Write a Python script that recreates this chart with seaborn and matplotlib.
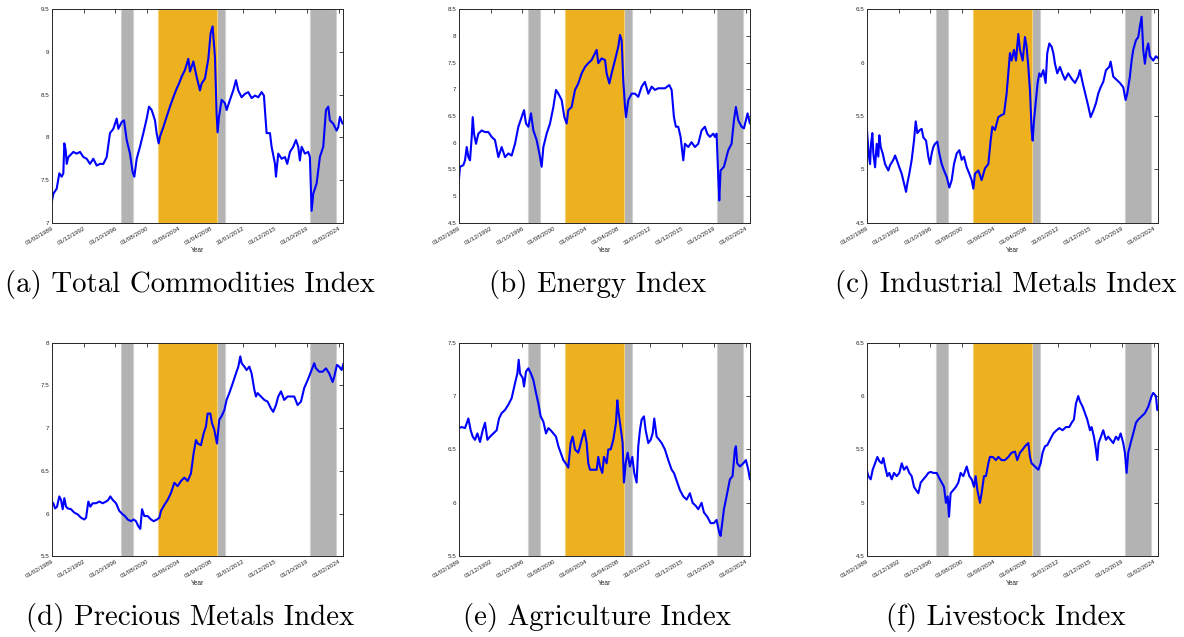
import numpy as np
import pandas as pd
import seaborn as sns
import matplotlib
matplotlib.use("Agg")
import matplotlib.pyplot as plt
from matplotlib.ticker import FormatStrFormatter

sns.set_theme(style="white")
plt.rcParams["font.family"] = ["Liberation Sans", "DejaVu Sans"]

# ---------------------------------------------------------
# data (log index levels; x in decimal years)
# ---------------------------------------------------------
tick_labels = ["01/02/1989", "01/12/1992", "01/10/1996", "01/08/2000", "01/06/2004",
               "01/04/2008", "31/01/2012", "01/12/2015", "01/10/2019", "01/02/2024"]
tick_years = [1989.08, 1992.97, 1996.86, 2000.75, 2004.64,
              2008.53, 2012.42, 2016.31, 2020.20, 2024.09]

gray_bands = [(1997.55, 1999.05), (2009.24, 2010.22), (2020.62, 2023.76)]
orange_band = (2002.10, 2009.24)

tci_years = [1989.08, 1989.28, 1989.69, 1990.01, 1990.30, 1990.50, 1990.62, 1990.79, 1990.91, 1991.11,
             1991.32, 1991.72, 1992.13, 1992.54, 1992.94, 1993.35, 1993.75, 1994.16, 1994.57, 1994.97,
             1995.38, 1995.79, 1996.19, 1996.60, 1997.01, 1997.21, 1997.62, 1997.90, 1998.23, 1998.63,
             1998.96, 1999.16, 1999.45, 1999.85, 2000.26, 2000.67, 2000.95, 2001.28, 2001.68, 2001.88,
             2002.13, 2002.29, 2002.70, 2003.10, 2003.51, 2003.92, 2004.32, 2004.61, 2004.93, 2005.34,
             2005.75, 2005.95, 2006.36, 2006.76, 2007.17, 2007.37, 2007.78, 2008.19, 2008.47, 2008.71,
             2009.00, 2009.20, 2009.32, 2009.49, 2009.81, 2010.22, 2010.42, 2010.83, 2011.23, 2011.56,
             2011.84, 2012.25, 2012.66, 2013.06, 2013.47, 2013.88, 2014.28, 2014.69, 2014.97, 2015.30,
             2015.71, 2015.91, 2016.32, 2016.44, 2016.72, 2017.13, 2017.54, 2017.82, 2018.15, 2018.55,
             2018.88, 2019.16, 2019.36, 2019.57, 2019.97, 2020.38, 2020.58, 2020.79, 2020.99, 2021.40,
             2021.80, 2022.21, 2022.54, 2022.82, 2023.02, 2023.43, 2023.84, 2024.04, 2024.24, 2024.57]
tci_vals = [7.24, 7.34, 7.40, 7.58, 7.54, 7.58, 7.93, 7.85, 7.69, 7.77,
            7.79, 7.83, 7.81, 7.83, 7.77, 7.75, 7.69, 7.75, 7.67, 7.69,
            7.69, 7.77, 8.05, 8.10, 8.22, 8.10, 8.18, 8.20, 7.97, 7.81,
            7.59, 7.54, 7.75, 7.89, 8.05, 8.22, 8.36, 8.32, 8.20, 8.05,
            7.93, 8.01, 8.12, 8.24, 8.36, 8.47, 8.57, 8.63, 8.71, 8.79,
            8.92, 8.77, 8.89, 8.71, 8.55, 8.63, 8.69, 8.92, 9.22, 9.30,
            8.94, 8.28, 8.06, 8.24, 8.44, 8.40, 8.32, 8.44, 8.55, 8.67,
            8.55, 8.47, 8.51, 8.53, 8.46, 8.49, 8.47, 8.53, 8.49, 8.05,
            8.05, 7.89, 7.69, 7.54, 7.81, 7.75, 7.77, 7.69, 7.83, 7.89,
            7.97, 7.89, 7.73, 7.89, 7.81, 7.83, 7.77, 7.14, 7.34, 7.46,
            7.77, 7.89, 8.32, 8.36, 8.20, 8.16, 8.08, 8.12, 8.24, 8.16]

nrg_years = [1989.08, 1989.24, 1989.65, 1989.85, 1990.06, 1990.26, 1990.46, 1990.67, 1990.79, 1990.95,
             1991.19, 1991.48, 1991.88, 1992.29, 1992.70, 1993.10, 1993.51, 1993.92, 1994.32, 1994.73,
             1995.14, 1995.54, 1995.95, 1996.36, 1996.76, 1997.05, 1997.29, 1997.58, 1997.90, 1998.19,
             1998.59, 1998.92, 1999.20, 1999.41, 1999.81, 2000.22, 2000.63, 2000.95, 2001.24, 2001.64,
             2001.97, 2002.25, 2002.45, 2002.86, 2003.27, 2003.67, 2004.08, 2004.49, 2004.89, 2005.30,
             2005.91, 2006.11, 2006.52, 2006.93, 2007.13, 2007.46, 2007.74, 2008.15, 2008.55, 2008.76,
             2008.96, 2009.16, 2009.37, 2009.49, 2009.77, 2010.18, 2010.58, 2010.99, 2011.40, 2011.80,
             2012.21, 2012.62, 2013.02, 2013.43, 2013.84, 2014.24, 2014.77, 2015.06, 2015.34, 2015.58,
             2015.87, 2016.15, 2016.48, 2016.68, 2017.09, 2017.49, 2017.90, 2018.31, 2018.71, 2019.12,
             2019.40, 2019.73, 2020.14, 2020.34, 2020.54, 2020.75, 2020.87, 2021.03, 2021.44, 2021.97,
             2022.37, 2022.66, 2022.90, 2023.19, 2023.59, 2023.88, 2024.12, 2024.32, 2024.61]
nrg_vals = [5.26, 5.55, 5.58, 5.67, 5.92, 5.73, 5.67, 6.11, 6.48, 6.17,
            5.98, 6.17, 6.23, 6.20, 6.20, 6.11, 6.05, 5.73, 5.92, 5.73,
            5.80, 5.76, 5.98, 6.30, 6.48, 6.61, 6.36, 6.30, 6.55, 6.23,
            6.05, 5.80, 5.55, 5.92, 6.17, 6.36, 6.67, 6.99, 6.92, 6.80,
            6.48, 6.36, 6.61, 6.67, 6.99, 7.11, 7.30, 7.42, 7.49, 7.55,
            7.74, 7.49, 7.58, 7.55, 7.30, 7.11, 7.30, 7.55, 7.80, 8.02,
            7.92, 7.17, 6.67, 6.48, 6.80, 6.92, 6.92, 6.86, 7.05, 7.14,
            6.92, 7.05, 6.99, 7.02, 7.02, 7.02, 7.08, 6.99, 6.48, 6.30,
            6.30, 6.11, 5.67, 5.98, 5.92, 6.01, 5.92, 5.98, 6.23, 6.30,
            6.17, 6.11, 6.17, 6.11, 6.17, 5.36, 4.92, 5.48, 5.55, 5.86,
            5.98, 6.42, 6.67, 6.42, 6.30, 6.27, 6.42, 6.55, 6.36]

ind_years = [1989.08, 1989.20, 1989.36, 1989.49, 1989.61, 1989.77, 1989.89, 1990.10, 1990.30, 1990.50,
             1990.62, 1990.79, 1991.03, 1991.32, 1991.52, 1991.72, 1991.93, 1992.33, 1992.54, 1992.74,
             1993.06, 1993.35, 1993.63, 1993.88, 1994.04, 1994.28, 1994.57, 1994.85, 1995.06, 1995.26,
             1995.58, 1995.79, 1995.99, 1996.32, 1996.60, 1996.80, 1997.01, 1997.21, 1997.41, 1997.70,
             1997.94, 1998.23, 1998.51, 1998.84, 1999.16, 1999.45, 1999.73, 2000.06, 2000.38, 2000.67,
             2000.95, 2001.28, 2001.60, 2001.89, 2002.09, 2002.29, 2002.70, 2003.10, 2003.51, 2003.92,
             2004.20, 2004.41, 2004.73, 2005.14, 2005.54, 2005.83, 2006.15, 2006.36, 2006.56, 2006.76,
             2007.05, 2007.29, 2007.58, 2007.78, 2008.11, 2008.39, 2008.59, 2008.80, 2009.00, 2009.20,
             2009.33, 2009.49, 2009.73, 2009.93, 2010.14, 2010.34, 2010.63, 2010.91, 2011.11, 2011.36,
             2011.64, 2011.85, 2012.05, 2012.33, 2012.66, 2012.94, 2013.27, 2013.67, 2014.08, 2014.49,
             2014.89, 2015.10, 2015.43, 2015.83, 2016.12, 2016.40, 2016.73, 2017.05, 2017.33, 2017.62,
             2017.94, 2018.27, 2018.67, 2018.84, 2019.16, 2019.57, 2019.97, 2020.38, 2020.67, 2020.87,
             2021.19, 2021.40, 2021.60, 2021.93, 2022.21, 2022.41, 2022.62, 2022.82, 2023.02, 2023.23,
             2023.43, 2023.63, 2024.04, 2024.37, 2024.65]
ind_vals = [5.41, 5.27, 5.12, 5.05, 5.24, 5.34, 5.15, 5.02, 5.24, 5.12,
            5.32, 5.21, 5.15, 5.05, 5.02, 4.99, 5.04, 5.09, 5.13, 5.09,
            5.02, 4.96, 4.87, 4.79, 4.87, 4.96, 5.09, 5.27, 5.45, 5.34,
            5.37, 5.38, 5.30, 5.27, 5.12, 5.05, 5.15, 5.21, 5.24, 5.26,
            5.15, 5.05, 4.99, 4.93, 4.83, 4.90, 5.05, 5.15, 5.18, 5.09,
            5.12, 5.02, 4.96, 4.90, 4.82, 4.96, 4.99, 4.90, 5.01, 5.05,
            5.27, 5.40, 5.37, 5.49, 5.51, 5.52, 5.71, 5.90, 6.09, 6.02,
            6.12, 6.02, 6.27, 6.12, 6.02, 6.24, 6.15, 5.96, 5.74, 5.37,
            5.27, 5.46, 5.65, 5.81, 5.90, 5.87, 5.93, 5.81, 6.09, 6.18,
            6.15, 6.09, 5.99, 5.90, 5.96, 5.90, 5.84, 5.90, 5.85, 5.81,
            5.87, 5.93, 5.81, 5.68, 5.59, 5.49, 5.55, 5.62, 5.71, 5.77,
            5.82, 5.93, 5.96, 6.01, 5.87, 5.84, 5.81, 5.77, 5.65, 5.71,
            5.87, 6.02, 6.12, 6.21, 6.24, 6.34, 6.43, 6.12, 5.99, 6.12,
            6.18, 6.06, 6.02, 6.06, 6.04]

prc_years = [1989.08, 1989.28, 1989.49, 1989.73, 1990.01, 1990.22, 1990.42, 1990.62, 1990.83, 1991.03,
             1991.44, 1991.84, 1992.25, 1992.66, 1993.06, 1993.27, 1993.55, 1993.80, 1994.08, 1994.49,
             1994.89, 1995.30, 1995.71, 1995.99, 1996.23, 1996.52, 1996.93, 1997.33, 1997.74, 1998.02,
             1998.35, 1998.75, 1999.08, 1999.36, 1999.65, 1999.89, 2000.10, 2000.38, 2000.79, 2001.19,
             2001.52, 2001.93, 2002.21, 2002.41, 2002.82, 2003.23, 2003.63, 2004.04, 2004.45, 2004.85,
             2005.26, 2005.67, 2006.07, 2006.40, 2006.68, 2006.89, 2007.29, 2007.62, 2007.90, 2008.10,
             2008.43, 2008.63, 2008.92, 2009.24, 2009.53, 2009.81, 2010.14, 2010.42, 2010.75, 2011.15,
             2011.56, 2011.85, 2012.09, 2012.25, 2012.58, 2012.86, 2013.19, 2013.47, 2013.80, 2014.00,
             2014.20, 2014.61, 2015.02, 2015.42, 2015.83, 2016.11, 2016.44, 2016.72, 2017.05, 2017.45,
             2017.86, 2018.27, 2018.67, 2019.08, 2019.49, 2019.89, 2020.30, 2020.71, 2021.11, 2021.32,
             2021.72, 2022.13, 2022.54, 2022.94, 2023.35, 2023.55, 2023.88, 2024.16, 2024.45, 2024.69]
prc_vals = [6.14, 6.12, 6.06, 6.08, 6.20, 6.16, 6.05, 6.18, 6.08, 6.06,
            6.05, 6.01, 5.99, 5.95, 5.93, 5.95, 6.14, 6.08, 6.12, 6.12,
            6.14, 6.12, 6.14, 6.16, 6.20, 6.16, 6.12, 6.03, 5.99, 5.97,
            5.93, 5.91, 5.93, 5.91, 5.85, 5.82, 6.05, 5.97, 5.97, 5.93,
            5.91, 5.93, 5.95, 6.03, 6.10, 6.16, 6.24, 6.36, 6.32, 6.38,
            6.42, 6.38, 6.47, 6.71, 6.86, 6.82, 6.80, 6.94, 7.02, 7.17,
            7.17, 7.06, 6.98, 6.82, 7.10, 7.14, 7.21, 7.33, 7.41, 7.52,
            7.64, 7.72, 7.84, 7.76, 7.72, 7.68, 7.72, 7.64, 7.45, 7.37,
            7.41, 7.37, 7.33, 7.31, 7.23, 7.19, 7.27, 7.37, 7.43, 7.33,
            7.37, 7.37, 7.37, 7.27, 7.31, 7.47, 7.56, 7.66, 7.76, 7.70,
            7.66, 7.66, 7.70, 7.64, 7.54, 7.60, 7.74, 7.72, 7.68, 7.76]

agr_years = [1989.08, 1989.45, 1989.85, 1990.26, 1990.54, 1990.79, 1991.07, 1991.36, 1991.68, 1992.01,
             1992.29, 1992.58, 1992.90, 1993.31, 1993.71, 1994.00, 1994.32, 1994.73, 1995.14, 1995.54,
             1995.95, 1996.23, 1996.40, 1996.56, 1996.89, 1997.05, 1997.29, 1997.58, 1997.90, 1998.19,
             1998.51, 1998.80, 1999.08, 1999.41, 1999.73, 2000.02, 2000.30, 2000.63, 2000.95, 2001.24,
             2001.52, 2001.85, 2002.13, 2002.45, 2002.74, 2002.98, 2003.27, 2003.67, 2004.08, 2004.41,
             2004.69, 2004.89, 2005.10, 2005.42, 2005.91, 2006.11, 2006.32, 2006.60, 2006.80, 2007.13,
             2007.33, 2007.62, 2007.94, 2008.27, 2008.43, 2008.59, 2008.88, 2009.08, 2009.24, 2009.45,
             2009.69, 2009.97, 2010.26, 2010.50, 2010.79, 2010.99, 2011.19, 2011.40, 2011.68, 2011.89,
             2012.21, 2012.50, 2012.74, 2012.94, 2013.23, 2013.55, 2013.84, 2014.24, 2014.65, 2015.06,
             2015.34, 2015.75, 2016.07, 2016.48, 2016.89, 2017.29, 2017.62, 2018.02, 2018.31, 2018.71,
             2019.00, 2019.41, 2019.81, 2020.22, 2020.54, 2020.87, 2021.03, 2021.23, 2021.44, 2021.76,
             2022.17, 2022.49, 2022.78, 2022.90, 2023.06, 2023.39, 2023.80, 2024.12, 2024.41, 2024.61]
agr_vals = [6.70, 6.71, 6.70, 6.79, 6.68, 6.62, 6.59, 6.65, 6.57, 6.68,
            6.75, 6.59, 6.62, 6.65, 6.68, 6.79, 6.84, 6.87, 6.92, 6.98,
            7.12, 7.21, 7.34, 7.21, 7.17, 7.09, 7.23, 7.26, 7.21, 7.15,
            7.03, 6.93, 6.81, 6.76, 6.65, 6.70, 6.68, 6.65, 6.62, 6.53,
            6.47, 6.40, 6.37, 6.33, 6.56, 6.62, 6.50, 6.47, 6.59, 6.68,
            6.56, 6.37, 6.31, 6.31, 6.31, 6.43, 6.34, 6.28, 6.43, 6.37,
            6.50, 6.50, 6.59, 6.75, 6.96, 6.84, 6.68, 6.56, 6.19, 6.37,
            6.47, 6.34, 6.43, 6.28, 6.19, 6.53, 6.68, 6.78, 6.81, 6.68,
            6.56, 6.59, 6.65, 6.79, 6.62, 6.59, 6.56, 6.50, 6.40, 6.31,
            6.28, 6.19, 6.12, 6.06, 6.03, 6.09, 6.00, 5.97, 5.94, 6.00,
            5.91, 5.87, 5.81, 5.81, 5.84, 5.72, 5.69, 5.81, 5.94, 6.06,
            6.22, 6.25, 6.50, 6.53, 6.37, 6.34, 6.37, 6.40, 6.31, 6.22]

liv_years = [1989.08, 1989.28, 1989.57, 1989.81, 1990.10, 1990.38, 1990.62, 1990.91, 1991.11, 1991.32,
             1991.60, 1991.84, 1992.13, 1992.41, 1992.74, 1993.06, 1993.35, 1993.63, 1993.96, 1994.28,
             1994.57, 1994.85, 1995.10, 1995.38, 1995.67, 1995.99, 1996.32, 1996.60, 1996.88, 1997.21,
             1997.62, 1997.94, 1998.23, 1998.51, 1998.75, 1998.96, 1999.12, 1999.32, 1999.65, 1999.97,
             2000.26, 2000.54, 2000.87, 2001.28, 2001.60, 2001.89, 2002.17, 2002.37, 2002.58, 2002.90,
             2003.10, 2003.39, 2003.63, 2003.92, 2004.12, 2004.45, 2004.85, 2005.14, 2005.54, 2005.95,
             2006.36, 2006.76, 2007.17, 2007.45, 2007.78, 2008.11, 2008.39, 2008.80, 2009.00, 2009.20,
             2009.61, 2010.02, 2010.30, 2010.54, 2010.83, 2011.11, 2011.44, 2011.85, 2012.25, 2012.58,
             2012.98, 2013.39, 2013.80, 2014.08, 2014.36, 2014.61, 2014.89, 2015.10, 2015.43, 2015.71,
             2015.99, 2016.32, 2016.52, 2016.80, 2017.05, 2017.21, 2017.37, 2017.66, 2017.94, 2018.27,
             2018.55, 2018.84, 2019.16, 2019.49, 2019.77, 2020.06, 2020.38, 2020.58, 2020.79, 2020.99,
             2021.28, 2021.60, 2021.93, 2022.21, 2022.62, 2023.02, 2023.43, 2023.84, 2024.04, 2024.37,
             2024.53, 2024.65]
liv_vals = [5.31, 5.25, 5.22, 5.31, 5.37, 5.43, 5.39, 5.37, 5.42, 5.34,
            5.25, 5.28, 5.22, 5.28, 5.25, 5.28, 5.37, 5.31, 5.34, 5.28,
            5.25, 5.15, 5.12, 5.09, 5.19, 5.22, 5.25, 5.28, 5.29, 5.28,
            5.28, 5.23, 5.19, 5.15, 5.00, 5.06, 4.87, 5.09, 5.12, 5.15,
            5.19, 5.28, 5.25, 5.34, 5.25, 5.22, 5.15, 5.25, 5.12, 5.00,
            5.09, 5.25, 5.25, 5.37, 5.43, 5.43, 5.40, 5.43, 5.40, 5.40,
            5.43, 5.47, 5.48, 5.40, 5.47, 5.50, 5.53, 5.56, 5.43, 5.37,
            5.34, 5.31, 5.37, 5.47, 5.53, 5.54, 5.59, 5.65, 5.68, 5.70,
            5.68, 5.71, 5.71, 5.75, 5.78, 5.93, 6.00, 5.95, 5.90, 5.84,
            5.78, 5.68, 5.71, 5.62, 5.50, 5.40, 5.56, 5.62, 5.68, 5.59,
            5.62, 5.59, 5.56, 5.62, 5.59, 5.65, 5.56, 5.47, 5.28, 5.47,
            5.56, 5.65, 5.75, 5.78, 5.81, 5.84, 5.90, 6.00, 6.03, 6.00,
            5.87, 5.87]

captions = ["(a) Total Commodities Index", "(b) Energy Index", "(c) Industrial Metals Index",
            "(d) Precious Metals Index", "(e) Agriculture Index", "(f) Livestock Index"]
ylims = [(7, 9.5), (4.5, 8.5), (4.5, 6.5), (5.5, 8), (5.5, 7.5), (4.5, 6.5)]

series = [(tci_years, tci_vals), (nrg_years, nrg_vals), (ind_years, ind_vals),
          (prc_years, prc_vals), (agr_years, agr_vals), (liv_years, liv_vals)]

# ---------------------------------------------------------
# figure
# ---------------------------------------------------------
W, H = 1184, 637
fig = plt.figure(figsize=(W / 100, H / 100), dpi=100)

lefts = [51.7, 458.7, 866.7]
tops = [9.3, 342.7]
aw, ah = 291.3, 213.5

axcol = "#262626"
for i, ((xs, ys), cap, yl) in enumerate(zip(series, captions, ylims)):
    r, c = divmod(i, 3)
    l, t = lefts[c], tops[r]
    ax = fig.add_axes([l / W, 1 - (t + ah) / H, aw / W, ah / H])

    for a, b in gray_bands:
        ax.axvspan(a, b, facecolor="#b3b3b3", edgecolor="#d0d0d0", lw=0.8, zorder=1)
    ax.axvspan(*orange_band, facecolor="#EDB120", edgecolor="#f3d27a", lw=0.8, zorder=1)

    df = pd.DataFrame({"year": xs, "value": ys})
    sns.lineplot(data=df, x="year", y="value", color="#0000ff", lw=1.5, ax=ax, zorder=3)

    ax.set_xlim(1989.08, 2024.62)
    ax.set_ylim(*yl)
    ax.set_yticks(np.arange(yl[0], yl[1] + 0.01, 0.5))
    ax.yaxis.set_major_formatter(FormatStrFormatter("%g"))
    ax.set_xticks(tick_years)
    ax.set_xticklabels(tick_labels, rotation=30, ha="right", rotation_mode="anchor")
    ax.tick_params(direction="in", length=3, width=0.6, colors=axcol, labelsize=4.5,
                   top=True, right=True, pad=1.5)
    ax.tick_params(axis="x", pad=2)
    ax.set_xlabel("Year", fontsize=4.8, color=axcol, labelpad=1)
    ax.set_ylabel("")
    for s in ax.spines.values():
        s.set_color(axcol)
        s.set_linewidth(0.7)
        s.set_zorder(5)

    cy = 285 if r == 0 else 617
    fig.text((l + aw / 2 - 7) / W, 1 - cy / H, cap, ha="center", va="center",
             fontsize=20.8, family="cmr10", color="black")

fig.savefig("out.png", dpi=100)
